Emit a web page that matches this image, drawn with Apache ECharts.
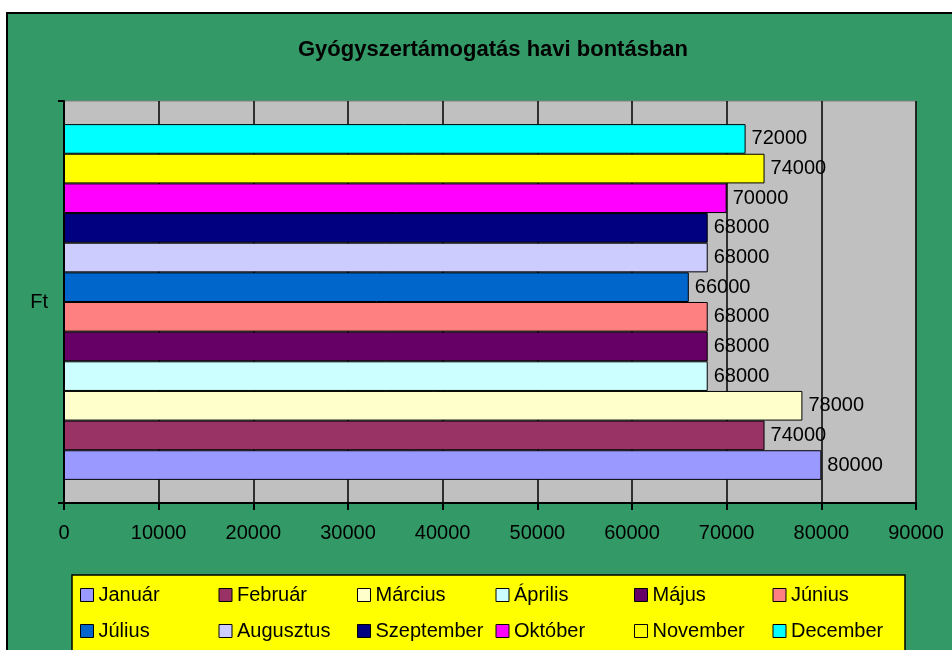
<!DOCTYPE html>
<html>
<head>
<meta charset="utf-8">
<script src="https://cdn.jsdelivr.net/npm/echarts@6/dist/echarts.min.js"></script>
<style>
html,body{margin:0;padding:0;background:#fff;}
#frame{position:absolute;left:6px;top:12px;width:960px;height:660px;background:#339966;border:2px solid #000;}
#chart{position:absolute;left:0;top:0;width:952px;height:650px;}
</style>
</head>
<body>
<div id="frame"></div>
<div id="chart"></div>
<script>
const titleText = 'Gyógyszertámogatás havi bontásban';
const categories = ['Ft'];
const months = ['Január','Február','Március','Április','Május','Június','Július','Augusztus','Szeptember','Október','November','December'];
const values = [80000,74000,78000,68000,68000,68000,66000,68000,68000,70000,74000,72000];
const colors = ['#9999FF','#993366','#FFFFCC','#CCFFFF','#660066','#FF8080','#0066CC','#CCCCFF','#000080','#FF00FF','#FFFF00','#00FFFF'];
const xTicks = {min:0, max:90000, interval:10000};

const font = "'Liberation Sans', Arial, sans-serif";
const chart = echarts.init(document.getElementById('chart'), null, {renderer:'canvas'});
// ECharts stacks horizontal grouped bars top-down; add series from December to January so January sits at the bottom
const series = [];
for (let i = months.length - 1; i >= 0; i--) {
  series.push({
    name:months[i], type:'bar',
    data:[values[i]],
    barGap:'0%', barCategoryGap:'11.5%',
    itemStyle:{color:colors[i], borderColor:'#000', borderWidth:1},
    label:{show:true, position:'right', distance:6, color:'#000', fontSize:20, fontFamily:font},
    emphasis:{disabled:true},
    animation:false
  });
}
chart.setOption({
  backgroundColor:'transparent',
  animation:false,
  title:{text:titleText, left:488, textAlign:'center', top:34,
    textStyle:{fontSize:22, fontWeight:'bold', color:'#000', fontFamily:font}},
  grid:{left:64, top:101, width:852, height:402, show:true, backgroundColor:'#C0C0C0', borderColor:'#808080', borderWidth:1},
  xAxis:{type:'value', min:xTicks.min, max:xTicks.max, interval:xTicks.interval,
    axisLine:{show:true, lineStyle:{color:'#000', width:2}},
    axisTick:{show:true, length:7, lineStyle:{color:'#000', width:2}},
    axisLabel:{color:'#000', fontSize:20, fontFamily:font, margin:20, formatter:v=>String(v)},
    splitLine:{show:true, lineStyle:{color:'#000', width:1.5}}},
  yAxis:{type:'category', data:categories,
    axisLine:{show:true, lineStyle:{color:'#000', width:2}},
    axisTick:{show:true, length:6, lineStyle:{color:'#000', width:2}},
    axisLabel:{color:'#000', fontSize:20, fontFamily:font, margin:16},
    splitLine:{show:false}},
  legend:{
    left:72, top:575, width:830, padding:[7,4,7,8],
    backgroundColor:'#FFFF00', borderColor:'#000', borderWidth:1.5, borderRadius:0,
    icon:'rect', itemWidth:13, itemHeight:13, itemGap:10,
    itemStyle:{borderColor:'#000', borderWidth:1},
    textStyle:{color:'#000', fontSize:20, fontFamily:font, width:110, lineHeight:26},
    selectedMode:false,
    data:months
  },
  series:series
});
</script>
</body>
</html>
